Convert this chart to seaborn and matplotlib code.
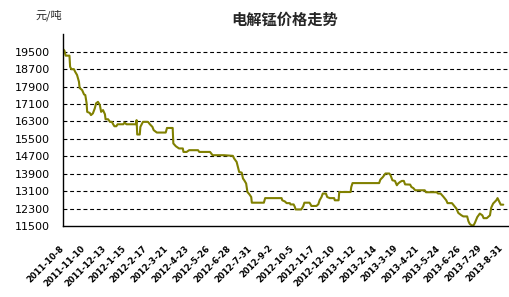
import matplotlib
matplotlib.use("Agg")
import matplotlib.pyplot as plt
import matplotlib.transforms as mtransforms
import seaborn as sns
import pandas as pd
import numpy as np

# ---- data ----
start_date = "2011-10-08"
day_offsets = [0, 3, 5, 11, 12, 14, 18, 20, 23, 26, 27, 31, 34, 36, 38, 39, 43, 45, 48, 51,
               53, 56, 59, 61, 64, 67, 68, 72, 75, 78, 80, 82, 85, 87, 96, 98, 101, 116, 117, 118,
               122, 123, 127, 135, 138, 142, 144, 149, 163, 165, 174, 175, 179, 184, 190, 191, 196, 200, 214, 216,
               233, 237, 255, 269, 271, 275, 277, 279, 283, 285, 287, 290, 292, 295, 298, 299, 318, 320, 346, 347,
               351, 354, 359, 360, 365, 367, 368, 377, 380, 382, 390, 392, 393, 401, 404, 406, 409, 411, 416, 418,
               422, 429, 430, 436, 437, 455, 456, 458, 500, 502, 506, 510, 516, 518, 521, 525, 528, 530, 533, 536,
               539, 541, 549, 551, 554, 557, 572, 574, 591, 593, 597, 601, 606, 608, 615, 617, 622, 625, 630, 633,
               639, 641, 643, 646, 649, 651, 655, 659, 663, 665, 670, 673, 675, 677, 680, 685, 687, 690, 692, 696]
prices = [19650, 19550, 19320, 19320, 18810, 18700, 18700, 18580, 18430, 18120, 17840, 17740, 17540, 17510, 17150, 16740, 16690, 16590, 16670, 16900,
          17130, 17200, 17050, 16740, 16820, 16630, 16400, 16400, 16280, 16280, 16170, 16080, 16080, 16170, 16170, 16250, 16170, 16170, 16360, 15700,
          15700, 16050, 16280, 16280, 16170, 16050, 15900, 15790, 15790, 16000, 16000, 15290, 15160, 15060, 15060, 14900, 14900, 14980, 14980, 14900,
          14900, 14750, 14750, 14720, 14600, 14440, 14210, 13980, 13950, 13680, 13600, 13450, 13060, 12960, 12830, 12570, 12570, 12780, 12780, 12680,
          12630, 12550, 12550, 12490, 12490, 12370, 12260, 12260, 12400, 12570, 12570, 12480, 12420, 12420, 12500, 12680, 12830, 12990, 12990, 12830,
          12780, 12780, 12680, 12680, 13060, 13060, 13290, 13470, 13470, 13630, 13750, 13910, 13910, 13830, 13600, 13570, 13370, 13450, 13520, 13570,
          13570, 13410, 13400, 13290, 13240, 13140, 13140, 13050, 13050, 12990, 12990, 12860, 12680, 12550, 12550, 12480, 12300, 12100, 11990, 11940,
          11940, 11720, 11600, 11530, 11530, 11630, 11910, 12070, 11990, 11860, 11860, 11940, 11990, 12340, 12530, 12680, 12780, 12600, 12480, 12480]
tick_labels = ["2011-10-8", "2011-11-10", "2011-12-13", "2012-1-15", "2012-2-17", "2012-3-21",
               "2012-4-23", "2012-5-26", "2012-6-28", "2012-7-31", "2012-9-2", "2012-10-5",
               "2012-11-7", "2012-12-10", "2013-1-12", "2013-2-14", "2013-3-19", "2013-4-21",
               "2013-5-24", "2013-6-26", "2013-7-29", "2013-8-31"]
y_ticks = [11500, 12300, 13100, 13900, 14700, 15500, 16300, 17100, 17900, 18700, 19500]
title = "电解锰价格走势"
unit = "元/吨"

sns.set_style("white")
plt.rcParams['font.family'] = ['DejaVu Sans', 'Noto Sans CJK SC']

dates = pd.to_datetime(start_date) + pd.to_timedelta(day_offsets, unit="D")
df = pd.DataFrame({"date": dates, "price": prices})

fig = plt.figure(figsize=(5.09, 2.97), dpi=100)
ax = fig.add_axes([62.5 / 509, 1 - 226 / 297, (508 - 62.5) / 509, (226 - 34.3) / 297])

sns.lineplot(data=df, x="date", y="price", ax=ax, color="#808000", linewidth=1.5,
             estimator=None, sort=False)

x0 = pd.to_datetime(start_date)
ax.set_xlim(x0, x0 + pd.Timedelta(days=703.5))
ax.set_ylim(11500, 20300)

ax.set_yticks(y_ticks)
ax.set_yticklabels([str(v) for v in y_ticks], fontsize=8)
tick_dates = [x0 + pd.Timedelta(days=33 * i) for i in range(len(tick_labels))]
ax.set_xticks(tick_dates)
ax.set_xticklabels(tick_labels, fontsize=6, fontweight="bold", rotation=45,
                   ha="right", va="center", rotation_mode="anchor")
offset = mtransforms.ScaledTranslation(-12 / 100, 0, fig.dpi_scale_trans)
for lbl in ax.get_xticklabels():
    lbl.set_transform(lbl.get_transform() + offset)

ax.tick_params(axis="y", length=0, pad=9, colors="black")
ax.tick_params(axis="x", length=3, width=1, direction="out", pad=12, colors="black")

for v in y_ticks[1:]:
    ax.axhline(v, color="black", linewidth=0.8, linestyle=(0, (3.5, 2.5)), zorder=0)

for s in ["top", "right"]:
    ax.spines[s].set_visible(False)
for s in ["left", "bottom"]:
    ax.spines[s].set_color("black")
    ax.spines[s].set_linewidth(1.0)
ax.set_xlabel("")
ax.set_ylabel("")

fig.text(35 / 509, 1 - 15 / 297, unit, fontsize=8, family=['Noto Sans CJK SC', 'DejaVu Sans'],
         ha="left", va="center")
fig.text(285 / 509, 1 - 20 / 297, title, fontsize=11, fontweight="bold",
         family=['Noto Sans CJK SC', 'DejaVu Sans'], ha="center", va="center")

fig.savefig("out.png", dpi=100)
